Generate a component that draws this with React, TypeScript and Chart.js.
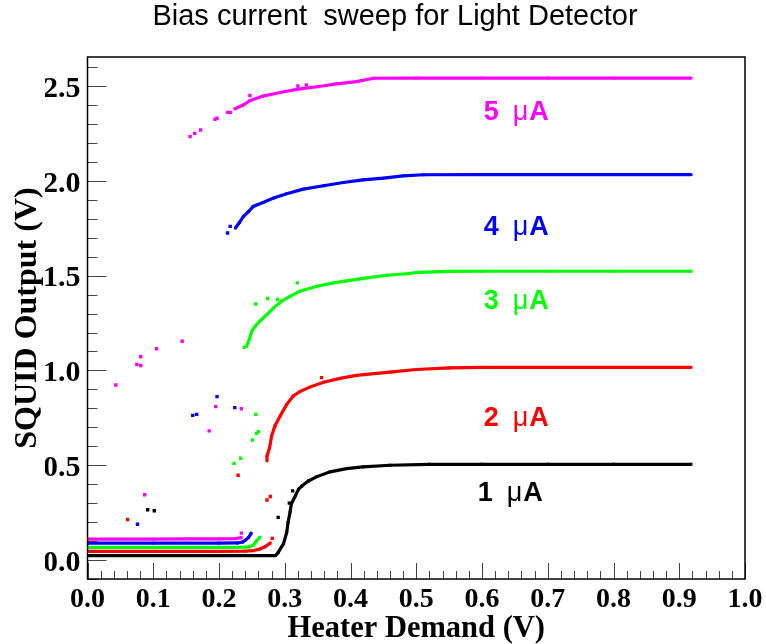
import React, { useEffect, useRef } from 'react';
import { Chart, registerables } from 'chart.js';

Chart.register(...registerables);

type P = [number, number];

// Axis ticks
const xTickValues = [0, 0.1, 0.2, 0.3, 0.4, 0.5, 0.6, 0.7, 0.8, 0.9, 1.0];
const yTickValues = [0, 0.5, 1.0, 1.5, 2.0, 2.5];

// Series labels / colours
const seriesNumbers = ['1', '2', '3', '4', '5'];
const seriesUnit = ['μ', 'A'];
const seriesColors = ['#000000', '#ff0000', '#00ff00', '#0000ff', '#ff00ff'];
const labelXs = [0.643, 0.652, 0.652, 0.652, 0.652];
const labelYs = [0.353, 0.747, 1.363, 1.755, 2.36];

// 1 uA (black)
const bias1Main: P[] = [
  [0, 0.023], [0.1, 0.023], [0.2, 0.023], [0.286, 0.023], [0.29, 0.04], [0.298, 0.085],
  [0.303, 0.146], [0.305, 0.198], [0.308, 0.252], [0.31, 0.295], [0.316, 0.338],
  [0.321, 0.374], [0.326, 0.39], [0.336, 0.417], [0.349, 0.44], [0.369, 0.465],
  [0.394, 0.482], [0.419, 0.491], [0.46, 0.5], [0.52, 0.505], [0.6, 0.505],
  [0.7, 0.505], [0.8, 0.505], [0.918, 0.505],
];
const bias1Out: P[] = [
  [0.0915, 0.265], [0.1016, 0.26], [0.29, 0.225], [0.312, 0.365], [0.307, 0.3],
];

// 2 uA (red)
const bias2Low: P[] = [
  [0, 0.046], [0.1, 0.046], [0.2, 0.046], [0.24, 0.047], [0.252, 0.05],
  [0.262, 0.058], [0.27, 0.07], [0.278, 0.09],
];
const bias2High: P[] = [
  [0.273, 0.523], [0.273, 0.549], [0.277, 0.593], [0.28, 0.654], [0.285, 0.707],
  [0.293, 0.76], [0.303, 0.821], [0.313, 0.865], [0.323, 0.888], [0.338, 0.912],
  [0.359, 0.938], [0.384, 0.958], [0.409, 0.974], [0.44, 0.984], [0.46, 0.991],
  [0.5, 1.005], [0.55, 1.013], [0.6, 1.016], [0.7, 1.016], [0.8, 1.016], [0.918, 1.016],
];
const bias2Out: P[] = [
  [0.061, 0.214], [0.229, 0.447], [0.273, 0.317], [0.278, 0.335], [0.281, 0.114], [0.356, 0.962],
];

// 3 uA (green)
const bias3Low: P[] = [
  [0, 0.067], [0.1, 0.067], [0.2, 0.067], [0.24, 0.068], [0.247, 0.07],
  [0.252, 0.078], [0.257, 0.1], [0.262, 0.12],
];
const bias3High: P[] = [
  [0.238, 1.12], [0.242, 1.128], [0.246, 1.163], [0.25, 1.207], [0.255, 1.233],
  [0.262, 1.26], [0.273, 1.295], [0.283, 1.33], [0.295, 1.365], [0.308, 1.391],
  [0.323, 1.418], [0.349, 1.444], [0.374, 1.462], [0.399, 1.475], [0.425, 1.488],
  [0.455, 1.502], [0.485, 1.51], [0.503, 1.517], [0.55, 1.522], [0.6, 1.523],
  [0.7, 1.523], [0.8, 1.523], [0.918, 1.523],
];
const bias3Out: P[] = [
  [0.256, 1.35], [0.274, 1.379], [0.289, 1.374], [0.319, 1.462], [0.256, 0.768],
  [0.257, 0.668], [0.26, 0.677], [0.251, 0.633], [0.223, 0.51], [0.233, 0.537],
];

// 4 uA (blue)
const bias4Low: P[] = [
  [0, 0.089], [0.1, 0.089], [0.2, 0.089], [0.228, 0.09], [0.236, 0.095],
  [0.24, 0.105], [0.245, 0.119], [0.249, 0.142],
];
const bias4High: P[] = [
  [0.225, 1.751], [0.231, 1.78], [0.237, 1.812], [0.245, 1.838], [0.252, 1.865],
  [0.267, 1.886], [0.283, 1.909], [0.303, 1.932], [0.328, 1.956], [0.359, 1.974],
  [0.389, 1.991], [0.419, 2.005], [0.45, 2.014], [0.48, 2.026], [0.511, 2.032],
  [0.6, 2.033], [0.7, 2.033], [0.8, 2.033], [0.918, 2.033],
];
const bias4Out: P[] = [
  [0.213, 1.725], [0.217, 1.76], [0.197, 0.862], [0.224, 0.804], [0.16, 0.763],
  [0.166, 0.768], [0.076, 0.189],
];

// 5 uA (magenta)
const bias5Low: P[] = [
  [0, 0.11], [0.1, 0.11], [0.15, 0.112], [0.2, 0.112], [0.225, 0.113], [0.234, 0.118],
];
const bias5High: P[] = [
  [0.224, 2.379], [0.237, 2.4], [0.247, 2.423], [0.267, 2.447], [0.293, 2.466],
  [0.318, 2.482], [0.349, 2.496], [0.379, 2.511], [0.409, 2.523], [0.435, 2.541],
  [0.5, 2.542], [0.6, 2.542], [0.7, 2.542], [0.8, 2.542], [0.918, 2.542],
];
const bias5Out: P[] = [
  [0.156, 2.233], [0.163, 2.25], [0.172, 2.268], [0.194, 2.325], [0.197, 2.33],
  [0.213, 2.361], [0.217, 2.361], [0.247, 2.45], [0.32, 2.5], [0.333, 2.505],
  [0.043, 0.923], [0.075, 1.032], [0.081, 1.026], [0.081, 1.072], [0.105, 1.114],
  [0.144, 1.154], [0.195, 0.809], [0.234, 0.798], [0.185, 0.681], [0.087, 0.344],
  [0.234, 0.142],
];

const lineSegments: P[][][] = [
  [bias1Main],
  [bias2Low, bias2High],
  [bias3Low, bias3High],
  [bias4Low, bias4High],
  [bias5Low, bias5High],
];
const outlierSets: P[][] = [bias1Out, bias2Out, bias3Out, bias4Out, bias5Out];

const toXY = (pts: P[]) => pts.map(([x, y]) => ({ x, y }));

const SANS = '"Liberation Sans", Arial, sans-serif';
const SERIF = '"Liberation Serif", "Times New Roman", serif';

const framePlugin = {
  id: 'frameTicks',
  afterDatasetsDraw(chart: any) {
    const { ctx, chartArea: a, scales } = chart;
    const xs = scales.x;
    const ys = scales.y;
    ctx.save();
    ctx.strokeStyle = '#444';
    ctx.lineWidth = 1;
    for (let i = 0; i <= 50; i++) {
      const v = i * 0.02;
      const px = Math.round(xs.getPixelForValue(v)) + 0.5;
      const len = i % 5 === 0 ? 16 : 8;
      ctx.beginPath();
      ctx.moveTo(px, a.bottom);
      ctx.lineTo(px, a.bottom - len);
      ctx.stroke();
    }
    for (let i = -1; i <= 26; i++) {
      const v = i * 0.1;
      if (v < ys.min || v > ys.max) continue;
      const py = Math.round(ys.getPixelForValue(v)) + 0.5;
      const len = i % 5 === 0 ? 19 : 10;
      ctx.beginPath();
      ctx.moveTo(a.left, py);
      ctx.lineTo(a.left + len, py);
      ctx.stroke();
    }
    ctx.strokeStyle = '#000';
    ctx.lineWidth = 1.5;
    ctx.strokeRect(a.left, a.top, a.right - a.left, a.bottom - a.top);

    // series labels: bold number, gap, plain mu, bold A
    ctx.textBaseline = 'middle';
    ctx.textAlign = 'left';
    const boldFont = `bold 27px ${SANS}`;
    const muFont = `27px ${SANS}`;
    const gap = 14;
    for (let i = 0; i < seriesNumbers.length; i++) {
      ctx.font = boldFont;
      const wN = ctx.measureText(seriesNumbers[i]).width;
      const wA = ctx.measureText(seriesUnit[1]).width;
      ctx.font = muFont;
      const wMu = ctx.measureText(seriesUnit[0]).width;
      const total = wN + gap + wMu + 1 + wA;
      let x = xs.getPixelForValue(labelXs[i]) - total / 2;
      const y = ys.getPixelForValue(labelYs[i]);
      ctx.fillStyle = seriesColors[i];
      ctx.font = boldFont;
      ctx.fillText(seriesNumbers[i], x, y);
      x += wN + gap;
      ctx.font = muFont;
      ctx.fillText(seriesUnit[0], x, y);
      x += wMu + 1;
      ctx.font = boldFont;
      ctx.fillText(seriesUnit[1], x, y);
    }
    ctx.restore();
  },
};

export default function App() {
  const ref = useRef<HTMLCanvasElement | null>(null);
  useEffect(() => {
    document.body.style.margin = '0';
    const datasets: any[] = [];
    lineSegments.forEach((segs, i) => {
      segs.forEach((seg) => {
        datasets.push({
          data: toXY(seg),
          showLine: true,
          borderColor: seriesColors[i],
          backgroundColor: seriesColors[i],
          borderWidth: 3.2,
          pointStyle: 'rect',
          pointRadius: 2,
          pointBorderWidth: 0,
          tension: 0,
        });
      });
    });
    outlierSets.forEach((pts, i) => {
      datasets.push({
        data: toXY(pts),
        showLine: false,
        borderColor: seriesColors[i],
        backgroundColor: seriesColors[i],
        pointStyle: 'rect',
        pointRadius: 2.4,
        pointBorderWidth: 0,
      });
    });
    const chart = new Chart(ref.current as HTMLCanvasElement, {
      type: 'scatter',
      data: { datasets },
      plugins: [framePlugin],
      options: {
        animation: false,
        responsive: false,
        layout: { padding: { left: 45, right: 21, top: 0, bottom: 0 } },
        plugins: {
          legend: { display: false },
          tooltip: { enabled: false },
          title: {
            display: true,
            text: 'Bias current  sweep for Light Detector',
            color: '#000',
            font: { family: SANS, size: 29, weight: 'normal', lineHeight: 1.2 },
            padding: { top: 0, bottom: 22.2 },
          },
        },
        scales: {
          x: {
            type: 'linear',
            min: 0,
            max: 1.0,
            afterBuildTicks: (s: any) => { s.ticks = xTickValues.map((v) => ({ value: v })); },
            afterFit: (s: any) => { s.height = 65; s.paddingLeft = 0; s.paddingRight = 0; },
            grid: { display: false, drawTicks: false },
            border: { display: false },
            ticks: {
              color: '#000',
              padding: 4,
              maxRotation: 0,
              autoSkip: false,
              font: { family: SERIF, size: 28, weight: 'bold' },
              callback: (v: any) => Number(v).toFixed(1),
            },
            title: {
              display: true,
              text: 'Heater Demand (V)',
              color: '#000',
              font: { family: SERIF, size: 30.5, weight: 'bold', lineHeight: 1 },
              padding: { top: 0, bottom: 0 },
            },
          },
          y: {
            type: 'linear',
            min: -0.1,
            max: 2.653,
            afterBuildTicks: (s: any) => { s.ticks = yTickValues.map((v) => ({ value: v })); },
            afterFit: (s: any) => { s.width = 42.5; s.paddingTop = 0; s.paddingBottom = 0; },
            grid: { display: false, drawTicks: false },
            border: { display: false },
            ticks: {
              color: '#000',
              padding: 7,
              labelOffset: 3,
              autoSkip: false,
              font: { family: SERIF, size: 30, weight: 'bold' },
              callback: (v: any) => Number(v).toFixed(1),
            },
            title: {
              display: true,
              text: 'SQUID Output (V)',
              color: '#000',
              font: { family: SERIF, size: 32, weight: 'bold', lineHeight: 1 },
              padding: { top: -33, bottom: 0 },
            },
          },
        },
      },
    });
    return () => chart.destroy();
  }, []);
  return (
    <div style={{ position: 'absolute', left: 0, top: 0, width: 766, height: 644, background: '#fff' }}>
      <canvas ref={ref} width={766} height={644} style={{ display: 'block' }} />
    </div>
  );
}
